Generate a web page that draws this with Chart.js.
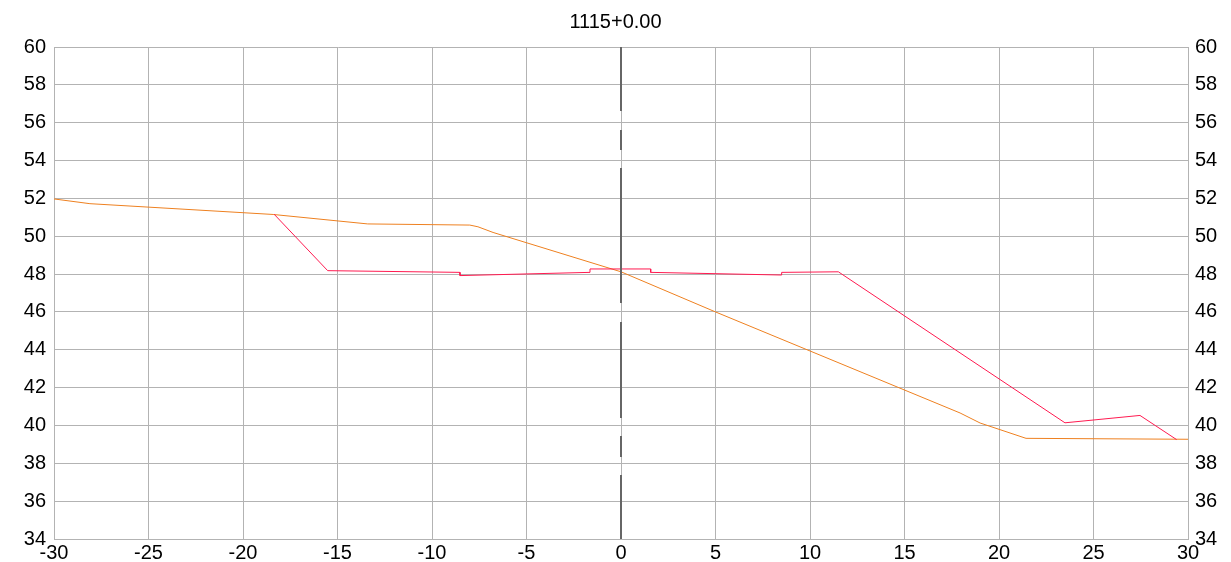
<!DOCTYPE html>
<html>
<head>
<meta charset="utf-8">
<script src="https://cdn.jsdelivr.net/npm/chart.js@4/dist/chart.umd.min.js"></script>
<style>
  html, body { margin: 0; padding: 0; background: #fff; }
  canvas { display: block; }
</style>
</head>
<body>
<canvas id="profilChart" width="1231" height="562"></canvas>
<script>
const titre = "1115+0.00";

const terrainX = [-30, -28.1, -18.4, -13.4, -8.0, -7.57, -6.77, 0, 5, 17.94, 19.0, 21.43, 30];
const terrainY = [51.97, 51.72, 51.15, 50.65, 50.59, 50.5, 50.2, 48.12, 46.0, 40.66, 40.13, 39.32, 39.27];

const projetX = [-18.36, -15.52, -8.52, -8.52, -1.64, -1.64, 1.57, 1.57, 8.5, 8.5, 11.5, 23.49, 27.46, 29.4];
const projetY = [51.17, 48.18, 48.09, 47.92, 48.09, 48.27, 48.27, 48.09, 47.95, 48.09, 48.12, 40.14, 40.53, 39.25];

// Axe central (tronçons du tireté, null = coupure)
const axeY = [60, 56.62, null, 55.61, 54.56, null, 53.6, 46.47, null, 45.47, 40.39, null, 39.44, 38.33, null, 37.38, 34];

const xMin = -30, xMax = 30, xPas = 5;
const yMin = 34, yMax = 60, yPas = 2;

document.addEventListener("DOMContentLoaded", function () {
  const police = "'Liberation Sans', Arial, sans-serif";
  const grille = "#b3b3b3";

  const toPoints = (xs, ys) => xs.map((x, i) => ({ x: x, y: ys[i] }));
  const axePoints = axeY.map((y) => ({ x: 0, y: y }));

  const ctx = document.getElementById("profilChart").getContext("2d");
  new Chart(ctx, {
    type: "line",
    data: {
      datasets: [
        {
          label: "Axe",
          data: axePoints,
          borderColor: "#666666",
          borderWidth: 2,
          pointRadius: 0,
          spanGaps: false,
        },
        {
          label: "Projet",
          data: toPoints(projetX, projetY),
          borderColor: "#ff1a50",
          borderWidth: 1,
          pointRadius: 0,
          tension: 0,
        },
        {
          label: "Terrain naturel",
          data: toPoints(terrainX, terrainY),
          borderColor: "#ee8020",
          borderWidth: 1,
          pointRadius: 0,
          tension: 0,
        },
      ],
    },
    options: {
      responsive: false,
      animation: false,
      layout: { padding: 0 },
      plugins: {
        legend: { display: false },
        tooltip: { enabled: false },
        title: {
          display: true,
          text: titre,
          color: "#000",
          font: { family: police, size: 20, weight: "normal" },
          padding: { top: 10, bottom: 13 },
        },
      },
      scales: {
        x: {
          type: "linear",
          min: xMin,
          max: xMax,
          afterFit: (s) => { s.height = 23; },
          ticks: {
            stepSize: xPas,
            color: "#000",
            padding: 2,
            maxRotation: 0,
            font: { family: police, size: 20 },
          },
          grid: { color: grille, drawTicks: false },
          border: { color: grille },
        },
        y: {
          type: "linear",
          position: "left",
          min: yMin,
          max: yMax,
          afterFit: (s) => { s.width = 54; },
          ticks: {
            stepSize: yPas,
            color: "#000",
            padding: 8,
            font: { family: police, size: 20 },
          },
          grid: { color: grille, drawTicks: false },
          border: { color: grille },
        },
        y2: {
          type: "linear",
          position: "right",
          min: yMin,
          max: yMax,
          afterFit: (s) => { s.width = 43; },
          ticks: {
            stepSize: yPas,
            color: "#000",
            padding: 7,
            font: { family: police, size: 20 },
          },
          grid: { display: false, drawTicks: false },
          border: { color: grille },
        },
      },
    },
  });
});
</script>
</body>
</html>
